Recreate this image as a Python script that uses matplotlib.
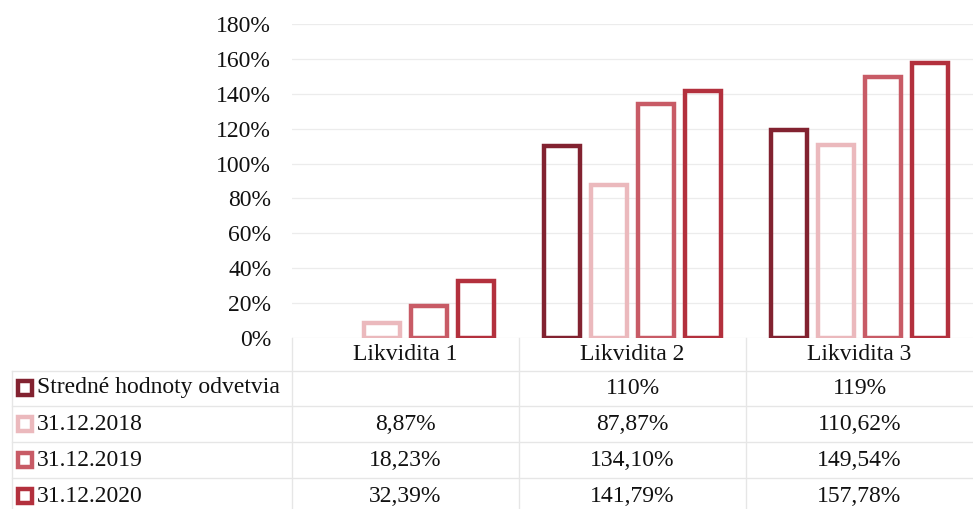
import numpy as np
import matplotlib
matplotlib.use('Agg')
import matplotlib.pyplot as plt
from matplotlib.transforms import blended_transform_factory

categories = ['Likvidita 1', 'Likvidita 2', 'Likvidita 3']
series_names = ['Stredné hodnoty odvetvia', '31.12.2018', '31.12.2019', '31.12.2020']
stredne = [np.nan, 110, 119]
y2018 = [8.87, 87.87, 110.62]
y2019 = [18.23, 134.10, 149.54]
y2020 = [32.39, 141.79, 157.78]
table_text = [
    ['', '110%', '119%'],
    ['8,87%', '87,87%', '110,62%'],
    ['18,23%', '134,10%', '149,54%'],
    ['32,39%', '141,79%', '157,78%'],
]
colors = ['#822230', '#ebb9bd', '#c85b66', '#b3303d']

plt.rcParams['font.family'] = ['Liberation Serif', 'DejaVu Serif']
FS = 17
TXT = '#111111'

W, H = 973, 509
fig = plt.figure(figsize=(W / 100, H / 100), dpi=100)
left, right = 292 / W, 973 / W
base = 1 - 338 / H
top = 1 - 24 / H

ax = fig.add_axes([left, base, right - left, top - base])
x = np.arange(len(categories))
width = 0.155
step = 0.207
for i, vals in enumerate([stredne, y2018, y2019, y2020]):
    ax.bar(x + (i - 1.5) * step, vals, width, fill=False,
           edgecolor=colors[i], linewidth=3.2, zorder=3)

ax.set_xlim(-0.5, 2.5)
ax.set_ylim(0, 180)
ax.set_yticks(np.arange(0, 181, 20))
ax.set_yticklabels(['{}%'.format(v) for v in range(0, 181, 20)], fontsize=FS, color=TXT)
ax.set_xticks([])
ax.tick_params(axis='y', length=0, pad=15)
ax.grid(axis='y', color='#ececec', linewidth=0.9, zorder=0)
for s in ax.spines.values():
    s.set_visible(False)

# data table below the chart, y measured in pixels from chart base
tab_h = 509 - 338
tab = fig.add_axes([left, 0, right - left, base])
tab.set_xlim(-0.5, 2.5)
tab.set_ylim(tab_h, 0)
tab.axis('off')
line_c = '#e6e6e6'
header_y = 16
row_y = [50, 86, 122, 158]
row_lines = [33, 68, 104, 140]
for b in [-0.5, 0.5, 1.5]:
    tab.plot([b, b], [0, tab_h], color=line_c, lw=1.0, clip_on=False)
ftr = blended_transform_factory(fig.transFigure, tab.transData)
for r in row_lines:
    tab.plot([12 / W, 1.0], [r, r], color=line_c, lw=1.0, transform=ftr, clip_on=False)
tab.plot([12 / W, 12 / W], [row_lines[0], tab_h], color=line_c, lw=1.0,
         transform=ftr, clip_on=False)

for j, c in enumerate(categories):
    tab.text(j, header_y, c, ha='center', va='center', fontsize=FS, color=TXT)
for i, name in enumerate(series_names):
    yy = row_y[i]
    tab.plot([25 / W], [yy], marker='s', markersize=10, markerfacecolor='white',
             markeredgecolor=colors[i], markeredgewidth=3.2, transform=ftr, clip_on=False)
    tab.text(37 / W, yy, name, ha='left', va='center', fontsize=FS,
             color=TXT, transform=ftr)
    for j in range(len(categories)):
        tab.text(j, yy, table_text[i][j], ha='center', va='center', fontsize=FS,
                 color=TXT)

fig.savefig('out.png', dpi=100)
